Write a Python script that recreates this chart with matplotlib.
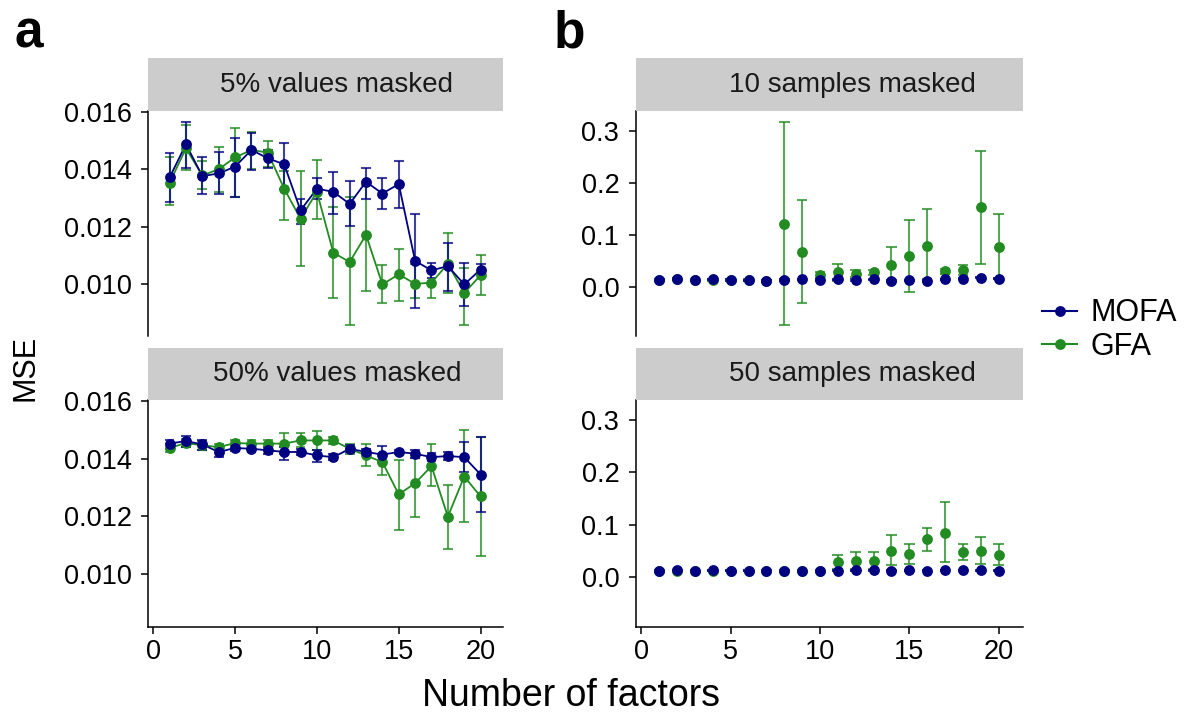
import matplotlib
matplotlib.use("Agg")
import matplotlib.pyplot as plt
from matplotlib.lines import Line2D
import numpy as np

plt.rcParams['font.family'] = ['Liberation Sans', 'DejaVu Sans']

factors = list(range(1, 21))
series_names = ["MOFA", "GFA"]
colors = {"MOFA": "#000080", "GFA": "#228B22"}

panel_titles = ["5% values masked", "50% values masked", "10 samples masked", "50 samples masked"]

# ---- panel a: 5% values masked
a5_mofa = [0.01371, 0.01487, 0.01376, 0.01385, 0.01409, 0.01467, 0.01438, 0.01417, 0.01256, 0.01332,
           0.01321, 0.01279, 0.01356, 0.01315, 0.01348, 0.01080, 0.01047, 0.01062, 0.00998, 0.01050]
a5_mofa_lo = [0.01285, 0.01405, 0.01315, 0.01315, 0.01303, 0.01397, 0.01403, 0.01332, 0.01209, 0.01297,
              0.01244, 0.01203, 0.01297, 0.01262, 0.01265, 0.00916, 0.01021, 0.00974, 0.00921, 0.01033]
a5_mofa_hi = [0.01458, 0.01564, 0.01441, 0.01461, 0.01508, 0.01526, 0.01467, 0.01493, 0.01297, 0.01368,
              0.01391, 0.01359, 0.01405, 0.01370, 0.01430, 0.01244, 0.01074, 0.01141, 0.01074, 0.01068]
a5_gfa = [0.01352, 0.01473, 0.01378, 0.01400, 0.01441, 0.01467, 0.01458, 0.01332, 0.01227, 0.01321,
          0.01109, 0.01076, 0.01171, 0.00998, 0.01033, 0.01000, 0.01004, 0.01070, 0.00968, 0.01030]
a5_gfa_lo = [0.01274, 0.01397, 0.01330, 0.01320, 0.01303, 0.01400, 0.01409, 0.01221, 0.01062, 0.01227,
             0.00951, 0.00857, 0.00974, 0.00933, 0.00939, 0.00951, 0.00951, 0.00968, 0.00857, 0.00960]
a5_gfa_hi = [0.01444, 0.01555, 0.01430, 0.01479, 0.01544, 0.01530, 0.01500, 0.01393, 0.01393, 0.01432,
             0.01268, 0.01303, 0.01344, 0.01065, 0.01121, 0.01068, 0.01050, 0.01176, 0.01056, 0.01101]

# ---- panel a: 50% values masked
a50_mofa = [0.01452, 0.01461, 0.01449, 0.01423, 0.01437, 0.01434, 0.01429, 0.01423, 0.01423, 0.01411,
            0.01405, 0.01434, 0.01423, 0.01414, 0.01423, 0.01417, 0.01405, 0.01409, 0.01405, 0.01345]
a50_mofa_lo = [0.01434, 0.01440, 0.01431, 0.01405, 0.01426, 0.01423, 0.01417, 0.01394, 0.01411, 0.01388,
               0.01394, 0.01423, 0.01411, 0.01388, 0.01417, 0.01403, 0.01392, 0.01394, 0.01353, 0.01214]
a50_mofa_hi = [0.01466, 0.01477, 0.01466, 0.01440, 0.01446, 0.01446, 0.01440, 0.01440, 0.01434, 0.01429,
               0.01417, 0.01446, 0.01434, 0.01443, 0.01429, 0.01429, 0.01419, 0.01423, 0.01458, 0.01475]
a50_gfa = [0.01437, 0.01454, 0.01446, 0.01440, 0.01454, 0.01452, 0.01452, 0.01452, 0.01463, 0.01463,
           0.01463, 0.01434, 0.01411, 0.01388, 0.01276, 0.01315, 0.01374, 0.01199, 0.01338, 0.01269]
a50_gfa_lo = [0.01423, 0.01440, 0.01431, 0.01429, 0.01440, 0.01438, 0.01434, 0.01417, 0.01440, 0.01429,
              0.01449, 0.01417, 0.01373, 0.01342, 0.01153, 0.01199, 0.01305, 0.01087, 0.01180, 0.01064]
a50_gfa_hi = [0.01452, 0.01469, 0.01461, 0.01452, 0.01466, 0.01463, 0.01466, 0.01487, 0.01487, 0.01495,
              0.01475, 0.01452, 0.01452, 0.01417, 0.01394, 0.01403, 0.01450, 0.01310, 0.01500, 0.01475]

# ---- panel b: 10 samples masked
b10_mofa = [0.0135, 0.0161, 0.0129, 0.0148, 0.0135, 0.0129, 0.0116, 0.0135, 0.0148, 0.0135,
            0.0148, 0.0135, 0.0148, 0.0116, 0.0129, 0.0116, 0.0148, 0.0161, 0.0180, 0.0161]
b10_mofa_lo = [0.0125, 0.0151, 0.0119, 0.0138, 0.0125, 0.0119, 0.0106, 0.0125, 0.0138, 0.0125,
               0.0138, 0.0125, 0.0138, 0.0106, 0.0119, 0.0106, 0.0138, 0.0151, 0.0170, 0.0151]
b10_mofa_hi = [0.0145, 0.0171, 0.0139, 0.0158, 0.0145, 0.0139, 0.0126, 0.0145, 0.0158, 0.0145,
               0.0158, 0.0145, 0.0158, 0.0126, 0.0139, 0.0126, 0.0158, 0.0171, 0.0190, 0.0171]
b10_gfa = [0.014, 0.015, 0.013, 0.014, 0.013, 0.013, 0.012, 0.121, 0.068, 0.023,
           0.028, 0.026, 0.028, 0.042, 0.060, 0.079, 0.030, 0.032, 0.153, 0.076]
b10_gfa_lo = [0.012, 0.013, 0.011, 0.012, 0.011, 0.011, 0.010, -0.073, -0.030, 0.018,
              0.012, 0.019, 0.023, 0.012, -0.009, 0.015, 0.025, 0.023, 0.045, 0.015]
b10_gfa_hi = [0.016, 0.017, 0.015, 0.016, 0.015, 0.015, 0.014, 0.316, 0.168, 0.028,
              0.044, 0.032, 0.033, 0.076, 0.129, 0.150, 0.034, 0.043, 0.261, 0.140]

# ---- panel b: 50 samples masked
b50_mofa = [0.0128, 0.0135, 0.0128, 0.0135, 0.0128, 0.0128, 0.0128, 0.0128, 0.0128, 0.0128,
            0.0128, 0.0135, 0.0135, 0.0128, 0.0135, 0.0128, 0.0135, 0.0135, 0.0135, 0.0128]
b50_mofa_lo = [0.0120, 0.0127, 0.0120, 0.0127, 0.0120, 0.0120, 0.0120, 0.0120, 0.0120, 0.0120,
               0.0120, 0.0127, 0.0127, 0.0120, 0.0127, 0.0120, 0.0127, 0.0127, 0.0127, 0.0120]
b50_mofa_hi = [0.0136, 0.0143, 0.0136, 0.0143, 0.0136, 0.0136, 0.0136, 0.0136, 0.0136, 0.0136,
               0.0136, 0.0143, 0.0143, 0.0136, 0.0143, 0.0136, 0.0143, 0.0143, 0.0143, 0.0136]
b50_gfa = [0.013, 0.013, 0.013, 0.013, 0.013, 0.013, 0.013, 0.013, 0.013, 0.013,
           0.029, 0.032, 0.032, 0.051, 0.045, 0.073, 0.085, 0.048, 0.051, 0.043]
b50_gfa_lo = [0.012, 0.012, 0.012, 0.012, 0.012, 0.012, 0.012, 0.012, 0.012, 0.012,
              0.016, 0.016, 0.016, 0.023, 0.026, 0.051, 0.029, 0.034, 0.026, 0.023]
b50_gfa_hi = [0.014, 0.014, 0.014, 0.014, 0.014, 0.014, 0.014, 0.014, 0.014, 0.014,
              0.042, 0.048, 0.048, 0.080, 0.064, 0.094, 0.143, 0.064, 0.077, 0.064]

a_ticks = [0.010, 0.012, 0.014, 0.016]
a_ticklabels = ["0.010", "0.012", "0.014", "0.016"]
b_ticks = [0.0, 0.1, 0.2, 0.3]
b_ticklabels = ["0.0", "0.1", "0.2", "0.3"]
x_ticks = [0, 5, 10, 15, 20]

W, H = 1190, 715
fig = plt.figure(figsize=(W / 100, H / 100), dpi=100)


def fx(px):
    return px / W


def fy(py):
    return 1 - py / H


def make_panel(left, right, top, bottom, strip_top, title, title_xfrac):
    ax = fig.add_axes([fx(left), fy(bottom), fx(right - left), (bottom - top) / H])
    sax = fig.add_axes([fx(left), fy(top), fx(right - left), (top - strip_top) / H])
    sax.set_facecolor("#CCCCCC")
    sax.set_xticks([])
    sax.set_yticks([])
    for s in sax.spines.values():
        s.set_visible(False)
    sax.text(title_xfrac, 0.5, title, ha="center", va="center", fontsize=20, color="#1a1a1a",
             transform=sax.transAxes)
    for side in ["top", "right"]:
        ax.spines[side].set_visible(False)
    for side in ["left", "bottom"]:
        ax.spines[side].set_linewidth(1.1)
    ax.tick_params(axis="both", length=5, width=1.1, labelsize=19.5, colors="black")
    ax.tick_params(axis="y", pad=7)
    ax.tick_params(axis="x", pad=4)
    return ax


def draw(ax, x, y, lo, hi, color, line, half=0.3, alpha=0.75):
    x = np.asarray(x, float)
    ax.vlines(x, lo, hi, color=color, lw=1.5, alpha=alpha, zorder=2)
    ax.hlines(lo, x - half, x + half, color=color, lw=1.5, alpha=alpha, zorder=2)
    ax.hlines(hi, x - half, x + half, color=color, lw=1.5, alpha=alpha, zorder=2)
    if line:
        ax.plot(x, y, color=color, lw=1.3, zorder=3)
    ax.plot(x, y, "o", color=color, ms=7.8, mec="none", zorder=4)


a_ylim = (0.00818, 0.01603)
b_ylim = (-0.094, 0.338)
xlim = (-0.3, 21.35)

panels = [
    (148.3, 502.7, 111, 336, 58.3, panel_titles[0], 0.532,
     (a5_gfa, a5_gfa_lo, a5_gfa_hi), (a5_mofa, a5_mofa_lo, a5_mofa_hi), True, a_ylim, a_ticks, a_ticklabels, False),
    (148.3, 502.7, 400, 626.7, 347.5, panel_titles[1], 0.532,
     (a50_gfa, a50_gfa_lo, a50_gfa_hi), (a50_mofa, a50_mofa_lo, a50_mofa_hi), True, a_ylim, a_ticks, a_ticklabels, True),
    (636, 1022.7, 111, 336, 58.3, panel_titles[2], 0.56,
     (b10_gfa, b10_gfa_lo, b10_gfa_hi), (b10_mofa, b10_mofa_lo, b10_mofa_hi), False, b_ylim, b_ticks, b_ticklabels, False),
    (636, 1022.7, 400, 626.7, 347.5, panel_titles[3], 0.56,
     (b50_gfa, b50_gfa_lo, b50_gfa_hi), (b50_mofa, b50_mofa_lo, b50_mofa_hi), False, b_ylim, b_ticks, b_ticklabels, True),
]

for (l, r, t, b, st, title, tx, gfa, mofa, line, ylim, yt, ytl, show_x) in panels:
    ax = make_panel(l, r, t, b, st, title, tx)
    draw(ax, factors, gfa[0], gfa[1], gfa[2], colors["GFA"], line)
    draw(ax, factors, mofa[0], mofa[1], mofa[2], colors["MOFA"], line)
    ax.set_xlim(*xlim)
    ax.set_ylim(*ylim)
    ax.set_yticks(yt)
    ax.set_yticklabels(ytl)
    ax.set_xticks(x_ticks)
    if show_x:
        ax.set_xticklabels([str(v) for v in x_ticks])
    else:
        ax.spines["bottom"].set_visible(False)
        ax.tick_params(axis="x", bottom=False, labelbottom=False)

fig.text(fx(571), fy(696), "Number of factors", ha="center", va="center", fontsize=27)
fig.text(fx(26), fy(368), "MSE", ha="center", va="center", rotation=90, fontsize=22)
fig.text(fx(14), fy(47), "a", ha="left", va="baseline", fontsize=37, fontweight="bold")
fig.text(fx(554), fy(47), "b", ha="left", va="baseline", fontsize=37, fontweight="bold")

handles = [Line2D([0], [0], color=colors[n], lw=1.5, marker="o", ms=7.8, mec="none") for n in series_names]
fig.legend(handles, series_names, loc="center left", bbox_to_anchor=(fx(1042), fy(330)),
           frameon=False, fontsize=22, handlelength=1.15, handletextpad=0.45, labelspacing=0.1,
           borderpad=0, borderaxespad=0)

fig.savefig("out.png", dpi=100)
